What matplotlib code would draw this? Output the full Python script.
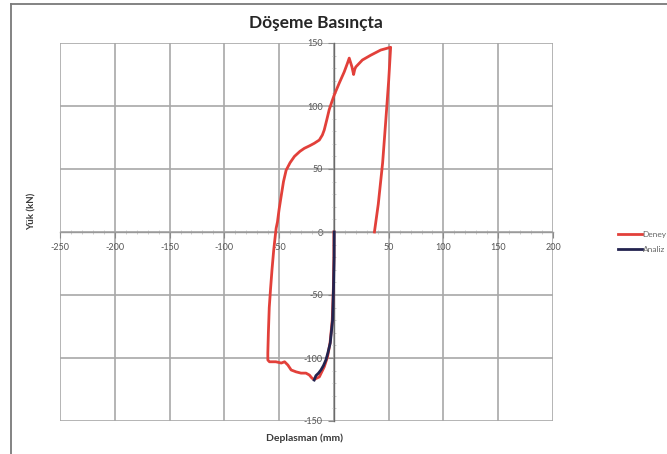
import matplotlib
matplotlib.use("Agg")
import matplotlib.pyplot as plt
from matplotlib.lines import Line2D
from matplotlib.ticker import MultipleLocator, FixedLocator

plt.rcParams['font.family'] = ['Lato', 'DejaVu Sans']

# ---- data ----
title = "Döşeme Basınçta"
xlabel = "Deplasman (mm)"
ylabel = "Yük (kN)"
series_names = ["Deney", "Analiz"]

deney_x = [0, 0, -0.5, -1.5, -3.5, -5.8, -8.8, -13.3, -18, -20, -22.4, -25.5, -30,
           -34.5, -39, -42, -45, -48, -53, -58.8, -60.3, -60.3, -59.8, -59, -57.8,
           -56.5, -55, -53.5, -52.7, -51.5, -50, -48.2, -46, -43.6, -40, -36, -31,
           -27, -22, -17.9, -13.3, -10.5, -8.8, -6.5, -4.3, -2, 0.3, 4.8, 9.4, 12.4,
           14, 16.5, 18, 19, 20, 26, 33.6, 42.7, 51.8, 50, 47.5, 44.5, 40.5, 37]
deney_y = [0, -20, -45, -70, -88, -99, -107, -115, -117, -116, -113.5, -112, -112,
           -111, -109.5, -105.6, -103, -104, -103, -103, -101.6, -96, -80, -60, -45,
           -30, -15, -3, 3, 8, 18, 28, 40, 49, 55, 60, 64, 66.4, 68.5, 70.4, 73, 77,
           81, 89, 97, 103, 108.7, 118, 127, 134, 138, 131, 125, 129, 131, 136.5,
           140.3, 144.4, 146.6, 120, 90, 55, 22, 0]

analiz_x = [0.3, 0.2, -0.3, -1.2, -3.3, -5.5, -7.3, -9.5, -11.8, -14, -16.4, -18]
analiz_y = [0, -20, -43, -70, -88, -96, -101.6, -106, -109.5, -112, -114, -117.5]

x_ticks = [-250, -200, -150, -100, -50, 0, 50, 100, 150, 200]
y_ticks = [-150, -100, -50, 0, 50, 100, 150]

# ---- figure ----
W, H = 667, 454
fig = plt.figure(figsize=(W / 100, H / 100), dpi=100)
fig.patch.set_facecolor('white')

L, R, T, B = 60, 553, 43, 421
ax = fig.add_axes([L / W, 1 - B / H, (R - L) / W, (B - T) / H])
ax.set_xlim(x_ticks[0], x_ticks[-1])
ax.set_ylim(y_ticks[0], y_ticks[-1])

ax.xaxis.set_major_locator(FixedLocator(x_ticks))
ax.yaxis.set_major_locator(FixedLocator(y_ticks))
ax.xaxis.set_minor_locator(MultipleLocator(10))
ax.yaxis.set_minor_locator(MultipleLocator(10))
ax.grid(True, which='major', color='#a8a8a8', lw=1.2)
ax.set_axisbelow(True)

for s in ['top', 'right']:
    ax.spines[s].set_visible(False)
ax.spines['left'].set_position(('data', 0))
ax.spines['bottom'].set_position(('data', 0))
ax.spines['left'].set_color('#6a6a6a')
ax.spines['bottom'].set_color('#9a9a9a')
ax.spines['left'].set_linewidth(1.0)
ax.spines['bottom'].set_linewidth(1.0)

ax.set_xticklabels([str(v) if v != 0 else '' for v in x_ticks])
ax.set_yticklabels([str(v) for v in y_ticks])
ax.tick_params(axis='both', which='major', labelsize=6.5, labelcolor='#555555',
               color='#8a8a8a', direction='out', length=4, pad=4)
ax.tick_params(axis='both', which='minor', color='#c8c8c8', direction='inout',
               length=3)

l1, = ax.plot(deney_x, deney_y, color='#e2403a', lw=2.0, label=series_names[0],
              zorder=3)
l2, = ax.plot(analiz_x, analiz_y, color='#22234f', lw=2.0, label=series_names[1],
              zorder=4)

# titles
fig.text(316 / W, 1 - 23 / H, title, ha='center', va='center', fontsize=12.5,
         fontweight='bold', color='#262626')
fig.text(305 / W, 1 - 438 / H, xlabel, ha='center', va='center', fontsize=7.5,
         fontweight='bold', color='#3a3a3a')
fig.text(32 / W, 1 - 211 / H, ylabel, ha='center', va='center', fontsize=7,
         fontweight='bold', color='#3a3a3a', rotation=90)

# legend (partly cut off by the image edge, as in the reference)
leg = fig.legend(handles=[l1, l2], loc='center left',
                 bbox_to_anchor=(615 / W, 1 - 242 / H), frameon=False,
                 fontsize=6, handlelength=2.8, handletextpad=0.1,
                 labelspacing=0.9, borderaxespad=0)
for t in leg.get_texts():
    t.set_color('#666666')

# outer chart frame
fig.add_artist(Line2D([11 / W, 11 / W], [0, 1 - 4 / H], transform=fig.transFigure,
                      color='#7a7a7a', lw=1.3))
fig.add_artist(Line2D([11 / W, 1], [1 - 4 / H, 1 - 4 / H], transform=fig.transFigure,
                      color='#7a7a7a', lw=1.3))

fig.savefig('out.png', dpi=100)
